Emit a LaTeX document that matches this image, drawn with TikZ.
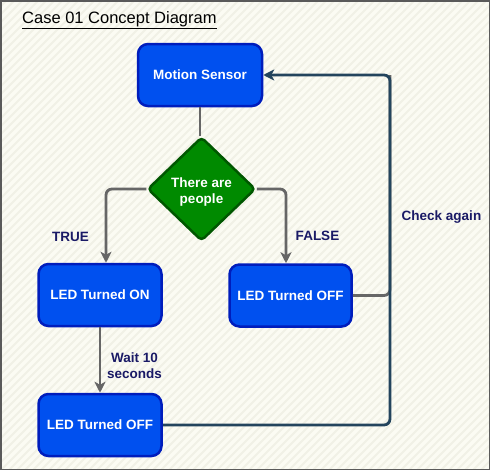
\documentclass[tikz,border=0pt]{standalone}
\usepackage{fontspec}
\setmainfont{Liberation Sans}
\usetikzlibrary{arrows.meta,shapes.geometric,calc}
\definecolor{bgcream}{HTML}{FBFBF3}
\definecolor{bgstripe}{HTML}{F1F1E6}
\definecolor{frame}{HTML}{5A5A5A}
\definecolor{boxfill}{HTML}{0050EF}
\definecolor{boxline}{HTML}{001DBC}
\definecolor{diafill}{HTML}{008A00}
\definecolor{dialine}{HTML}{005700}
\definecolor{grayedge}{HTML}{666666}
\definecolor{darkedge}{HTML}{23445D}
\definecolor{labelcol}{HTML}{1A1A66}
\tikzset{
  stepbox/.style={draw=boxline, fill=boxfill, line width=2.5pt, rounded corners=10pt,
    minimum width=121pt, minimum height=60pt, inner sep=0pt,
    text=white, font=\fontsize{13.5}{16}\selectfont\bfseries, align=center},
  decision/.style={diamond, draw=dialine, fill=diafill, line width=2.5pt, rounded corners=4pt,
    minimum width=108pt, minimum height=104pt, inner sep=0pt, aspect=1},
  diatext/.style={text=white, font=\fontsize{13.5}{16}\selectfont\bfseries, align=center, inner sep=0pt, yshift=-3pt},
  grayline/.style={draw=grayedge, line width=2.8pt, rounded corners=6pt},
  darkline/.style={draw=darkedge, line width=2.8pt, rounded corners=6pt},
  tip/.style={-{Stealth[length=11pt,width=11pt,inset=3pt]}},
  lbl/.style={text=labelcol, font=\fontsize{13.5}{16}\selectfont\bfseries, align=center, inner sep=0pt}
}
\begin{document}
\begin{tikzpicture}[x=1pt,y=-1pt]
\useasboundingbox (0,0) rectangle (491,471);
% background
\fill[white] (0,0) rectangle (491,471);
\fill[bgcream] (1,1) rectangle (489.5,469.5);
\begin{scope}
\clip (1,1) rectangle (489.5,469.5);
\foreach \k in {-480,-472,...,960} {
  \draw[bgstripe, line width=2pt] (\k,471) -- (\k+471,0);
}
\end{scope}
\draw[frame, line width=1.6pt] (0.8,0.8) rectangle (489.5,469.5);

% title
\node[anchor=west, inner sep=0pt, font=\fontsize{16.5}{19}\selectfont] (title) at (22,20) {\underline{Case 01 Concept Diagram}};

% nodes
\node[stepbox, minimum width=124pt, minimum height=62pt] (ms) at (200,75) {Motion Sensor};
\node[decision, label={[diatext]center:There are\\people}] (dia) at (201.5,189) {};
\node[stepbox, minimum width=123pt, minimum height=62pt] (on) at (100,295) {LED Turned ON};
\node[stepbox, minimum width=122pt, minimum height=62pt] (offr) at (290.5,295.5) {LED Turned OFF};
\node[stepbox, minimum width=123pt, minimum height=62pt] (offb) at (100,425) {LED Turned OFF};

% coordinates
\coordinate (cr) at (390,75);
\coordinate (cb) at (390,425);

% edges
\draw[grayline] (ms.south) -- (ms.south |- dia.north);
\draw[grayline, tip] (dia.west) -| ($(on.north)+(6,0)$);
\draw[grayline, tip] (dia.east) -| ($(offr.north)+(-4.5,0)$);
\draw[grayline, tip] (on.south) -- (offb.north);
\draw[grayline] (offr.east) -| (cr);
\draw[darkline, tip] (offb.east) -- (cb) -- (cr) -- (ms.east);

% labels
\node[lbl] (ltrue) at (70.5,237) {TRUE};
\node[lbl] (lfalse) at (317.5,236) {FALSE};
\node[lbl] (lcheck) at (441.5,217) {Check again};
\node[lbl] (lwait) at (134.5,366) {Wait 10\\seconds};
\end{tikzpicture}
\end{document}
